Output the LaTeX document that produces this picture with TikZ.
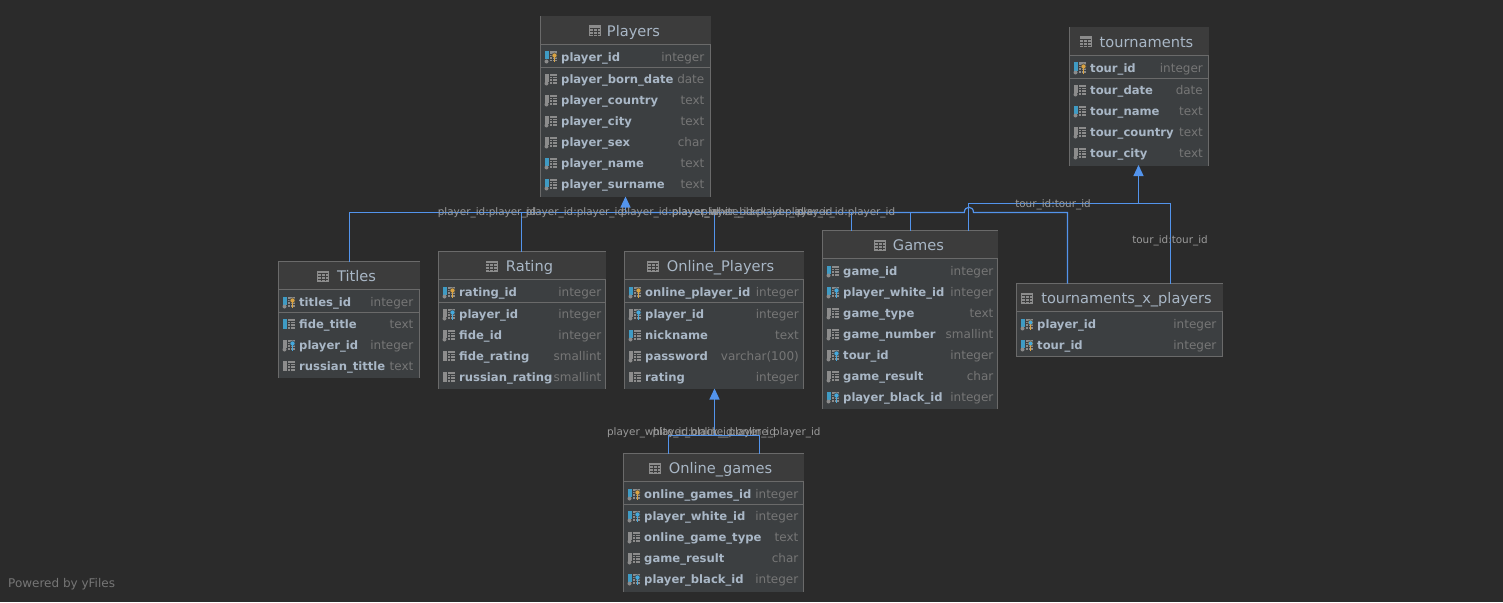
\documentclass[tikz,border=0pt]{standalone}
\usepackage{fontspec}
\setmainfont{DejaVu Sans}
\usetikzlibrary{arrows.meta}

\definecolor{bggray}{HTML}{2B2B2B}
\definecolor{headgray}{HTML}{3C3C3C}
\definecolor{rowgray}{HTML}{3C3F41}
\definecolor{linegray}{HTML}{6A6A6A}
\definecolor{icongray}{HTML}{8C8C8C}
\definecolor{namecol}{HTML}{A9B7C6}
\definecolor{typecol}{HTML}{767676}
\definecolor{edgeblue}{HTML}{5394EC}
\definecolor{labelcol}{HTML}{9A9A9A}
\definecolor{barblue}{HTML}{3F9BC4}
\definecolor{keyblue}{HTML}{46A9DC}
\definecolor{keygold}{HTML}{D9A343}

\tikzset{
  tablebox/.style={draw=linegray,fill=rowgray,line width=1pt,inner sep=0pt,outer sep=0pt,anchor=north west},
  tableline/.style={draw=linegray,line width=1pt},
  tabletitle/.style={text=namecol,inner sep=0pt,anchor=base,font=\fontsize{14.6}{17}\selectfont},
  colname/.style={text=namecol,inner sep=0pt,anchor=base west,font=\fontsize{11.6}{14}\selectfont\bfseries},
  coltype/.style={text=typecol,inner sep=0pt,anchor=base east,font=\fontsize{12}{14}\selectfont},
  edgelabel/.style={text=labelcol,inner sep=0pt,font=\fontsize{10.4}{12}\selectfont},
  fkedge/.style={draw=edgeblue,line width=1.2pt},
  fktip/.style={fkedge,-{Triangle[width=10,length=11]}},
  pics/colgrid/.style={code={
    \fill[icongray] (5.5,-6) rectangle (12,4);
    \draw[rowgray,line width=.6pt] (5.5,-3.5) -- (12,-3.5) (5.5,-1) -- (12,-1) (5.5,1.5) -- (12,1.5) (8,-3.5) -- (8,4);
  }},
  pics/reqbar/.style={code={
    \fill[barblue] (0,-6) rectangle (4,2);
    \fill[icongray] (2,4) circle (2);
  }},
  pics/nullbar/.style={code={
    \fill[icongray] (0,-6) rectangle (4,2);
    \fill[icongray] (2,4) circle (2);
  }},
  pics/goldkey/.style={code={
    \fill[keygold,draw=rowgray,line width=.5pt] (10,-2) circle (2.6);
    \fill[keygold] (9.3,-1) rectangle (10.7,5);
  }},
  pics/bluekey/.style={code={
    \fill[keyblue,draw=rowgray,line width=.5pt] (10,-2) circle (2.6);
    \fill[keyblue] (9.3,-1) rectangle (10.7,5);
  }},
  pics/pk/.style={code={\pic {reqbar}; \pic {colgrid}; \pic {goldkey};}},
  pics/pkfk/.style={code={\pic {reqbar}; \pic {colgrid}; \pic {goldkey}; \fill[keyblue] (10,-2) circle (2);}},
  pics/fkgray/.style={code={\pic {nullbar}; \pic {colgrid}; \pic {bluekey};}},
  pics/fkblue/.style={code={\pic {reqbar}; \pic {colgrid}; \pic {bluekey};}},
  pics/reqcol/.style={code={\pic {reqbar}; \pic {colgrid};}},
  pics/nullcol/.style={code={\pic {nullbar}; \pic {colgrid};}},
  pics/solidgray/.style={code={\fill[icongray] (0,-6) rectangle (4,4); \pic {colgrid};}},
  pics/solidblue/.style={code={\fill[barblue] (0,-6) rectangle (4,4); \pic {colgrid};}},
  pics/tableicon/.style={code={
    \fill[icongray] (0,-5.5) rectangle (12,5.5);
    \draw[headgray,line width=.7pt] (.8,-2.5) -- (11.2,-2.5) (.8,.5) -- (11.2,.5) (.8,3) -- (11.2,3) (4.3,-2.5) -- (4.3,4.7) (8,-2.5) -- (8,4.7);
  }},
}

\begin{document}
\begin{tikzpicture}[x=1pt,y=-1pt]
\useasboundingbox (0,0) rectangle (1503,602);
\fill[bggray] (0,0) rectangle (1503,602);

% Players
\begin{scope}[shift={(540.5,16.5)}]
\node[tablebox,minimum width=170,minimum height=180] (players) at (0,0) {};
\fill[headgray] (0,0) rectangle (170,28);
\draw[tableline] (0,28) -- (170,28);
\draw[tableline] (0,51) -- (170,51);
\node[tabletitle] (playerstitle) at (93,20) {Players};
\pic at (48.5,14.5) {tableicon};
\foreach \rowy/\rowicon/\rowname/\rowtype [count=\n] in {41/pk/player\_id/integer,63/nullcol/player\_born\_date/date,84/nullcol/player\_country/text,105/nullcol/player\_city/text,126/nullcol/player\_sex/char,147/reqcol/player\_name/text,168/reqcol/player\_surname/text}{
  \pic at (4,\rowy) {\rowicon};
  \node[colname] (playersname\n) at (20.5,\rowy+4) {\rowname};
  \node[coltype] (playerstype\n) at (164,\rowy+4) {\rowtype};
}
\end{scope}

% tournaments
\begin{scope}[shift={(1069.5,27.5)}]
\node[tablebox,minimum width=139,minimum height=137.5] (tournaments) at (0,0) {};
\fill[headgray] (0,0) rectangle (139,28);
\draw[tableline] (0,28) -- (139,28);
\draw[tableline] (0,51) -- (139,51);
\node[tabletitle] (tournamentstitle) at (77,20) {tournaments};
\pic at (10,14.5) {tableicon};
\foreach \rowy/\rowicon/\rowname/\rowtype [count=\n] in {41/pk/tour\_id/integer,63/nullcol/tour\_date/date,84/reqcol/tour\_name/text,105/nullcol/tour\_country/text,126/nullcol/tour\_city/text}{
  \pic at (4,\rowy) {\rowicon};
  \node[colname] (tournamentsname\n) at (20.5,\rowy+4) {\rowname};
  \node[coltype] (tournamentstype\n) at (133.5,\rowy+4) {\rowtype};
}
\end{scope}

% Titles
\begin{scope}[shift={(278.5,261.5)}]
\node[tablebox,minimum width=141,minimum height=116] (titles) at (0,0) {};
\fill[headgray] (0,0) rectangle (141,28);
\draw[tableline] (0,28) -- (141,28);
\draw[tableline] (0,51) -- (141,51);
\node[tabletitle] (titlestitle) at (78,20) {Titles};
\pic at (38.5,14.5) {tableicon};
\foreach \rowy/\rowicon/\rowname/\rowtype [count=\n] in {41/pk/titles\_id/integer,63/solidblue/fide\_title/text,84/fkgray/player\_id/integer,105/solidgray/russian\_tittle/text}{
  \pic at (4,\rowy) {\rowicon};
  \node[colname] (titlesname\n) at (20.5,\rowy+4) {\rowname};
  \node[coltype] (titlestype\n) at (135,\rowy+4) {\rowtype};
}
\end{scope}

% Rating
\begin{scope}[shift={(438.5,251.5)}]
\node[tablebox,minimum width=167,minimum height=137] (rating) at (0,0) {};
\fill[headgray] (0,0) rectangle (167,28);
\draw[tableline] (0,28) -- (167,28);
\draw[tableline] (0,51) -- (167,51);
\node[tabletitle] (ratingtitle) at (91,20) {Rating};
\pic at (47,14.5) {tableicon};
\foreach \rowy/\rowicon/\rowname/\rowtype [count=\n] in {41/pk/rating\_id/integer,63/fkgray/player\_id/integer,84/nullcol/fide\_id/integer,105/solidgray/fide\_rating/smallint,126/solidgray/russian\_rating/smallint}{
  \pic at (4,\rowy) {\rowicon};
  \node[colname] (ratingname\n) at (20.5,\rowy+4) {\rowname};
  \node[coltype] (ratingtype\n) at (163,\rowy+4) {\rowtype};
}
\end{scope}

% Online_Players
\begin{scope}[shift={(624.5,251.5)}]
\node[tablebox,minimum width=179,minimum height=137] (onlineplayers) at (0,0) {};
\fill[headgray] (0,0) rectangle (179,28);
\draw[tableline] (0,28) -- (179,28);
\draw[tableline] (0,51) -- (179,51);
\node[tabletitle] (onlineplayerstitle) at (96,20) {Online\_Players};
\pic at (22.5,14.5) {tableicon};
\foreach \rowy/\rowicon/\rowname/\rowtype [count=\n] in {41/pk/online\_player\_id/integer,63/fkgray/player\_id/integer,84/reqcol/nickname/text,105/nullcol/password/varchar(100),126/solidgray/rating/integer}{
  \pic at (4,\rowy) {\rowicon};
  \node[colname] (onlineplayersname\n) at (20.5,\rowy+4) {\rowname};
  \node[coltype] (onlineplayerstype\n) at (174.5,\rowy+4) {\rowtype};
}
\end{scope}

% Games
\begin{scope}[shift={(822.5,230.5)}]
\node[tablebox,minimum width=175,minimum height=178] (games) at (0,0) {};
\fill[headgray] (0,0) rectangle (175,28);
\draw[tableline] (0,28) -- (175,28);
\node[tabletitle] (gamestitle) at (96,20) {Games};
\pic at (51.5,14.5) {tableicon};
\foreach \rowy/\rowicon/\rowname/\rowtype [count=\n] in {41/reqcol/game\_id/integer,62/fkblue/player\_white\_id/integer,83/nullcol/game\_type/text,104/nullcol/game\_number/smallint,125/fkgray/tour\_id/integer,146/nullcol/game\_result/char,167/fkblue/player\_black\_id/integer}{
  \pic at (4,\rowy) {\rowicon};
  \node[colname] (gamesname\n) at (20.5,\rowy+4) {\rowname};
  \node[coltype] (gamestype\n) at (171,\rowy+4) {\rowtype};
}
\end{scope}

% tournaments_x_players
\begin{scope}[shift={(1016.5,283.5)}]
\node[tablebox,minimum width=206,minimum height=73] (tourxplayers) at (0,0) {};
\fill[headgray] (0,0) rectangle (206,28);
\draw[tableline] (0,28) -- (206,28);
\node[tabletitle] (tourxplayerstitle) at (110,20) {tournaments\_x\_players};
\pic at (4.5,14.5) {tableicon};
\foreach \rowy/\rowicon/\rowname/\rowtype [count=\n] in {41/pkfk/player\_id/integer,62/pkfk/tour\_id/integer}{
  \pic at (4,\rowy) {\rowicon};
  \node[colname] (tourxplayersname\n) at (20.5,\rowy+4) {\rowname};
  \node[coltype] (tourxplayerstype\n) at (200,\rowy+4) {\rowtype};
}
\end{scope}

% Online_games
\begin{scope}[shift={(623.5,453.5)}]
\node[tablebox,minimum width=180,minimum height=137.5] (onlinegames) at (0,0) {};
\fill[headgray] (0,0) rectangle (180,28);
\draw[tableline] (0,28) -- (180,28);
\draw[tableline] (0,51) -- (180,51);
\node[tabletitle] (onlinegamestitle) at (97,20) {Online\_games};
\pic at (25.5,14.5) {tableicon};
\foreach \rowy/\rowicon/\rowname/\rowtype [count=\n] in {41/pk/online\_games\_id/integer,63/fkblue/player\_white\_id/integer,84/nullcol/online\_game\_type/text,105/nullcol/game\_result/char,126/fkblue/player\_black\_id/integer}{
  \pic at (4,\rowy) {\rowicon};
  \node[colname] (onlinegamesname\n) at (20.5,\rowy+4) {\rowname};
  \node[coltype] (onlinegamestype\n) at (175,\rowy+4) {\rowtype};
}
\end{scope}

% only tournaments_x_players keeps its bottom line
\foreach \tablename in {players,tournaments,titles,rating,onlineplayers,games,onlinegames}{
  \draw[rowgray,line width=1pt] ([xshift=.5]\tablename.south west) -- ([xshift=-.5]\tablename.south east);
}

\coordinate (busplayers) at (625.5,212.5);
\coordinate (bustour) at (1138.5,203.5);
\coordinate (busonline) at (714.5,435.5);
\coordinate (gameswhite) at (851.5,230.5);
\coordinate (gamesblack) at (910.5,230.5);
\coordinate (gamestour) at (968.5,230.5);
\coordinate (txpplayer) at (1067.5,283.5);
\coordinate (txptour) at (1170.5,283.5);
\coordinate (ogwhite) at (668.5,453.5);
\coordinate (ogblack) at (759.5,453.5);

\draw[fkedge] ([xshift=.5]titles.north) |- (busplayers);
\draw[fkedge] ([xshift=-.5]rating.north) |- (busplayers);
\draw[fkedge] ([xshift=.5]onlineplayers.north) |- (busplayers);
\draw[fkedge] (gameswhite) |- (busplayers);
\draw[fkedge] (gamesblack) |- (busplayers);
\draw[fkedge] (txpplayer) |- (973.5,212.5) .. controls (973.5,205.5) and (964.3,205.5) .. (964.3,212.5) -- (busplayers);
\draw[fktip] (busplayers) -- (players.south);
\draw[fkedge] (gamestour) |- (bustour);
\draw[fkedge] (txptour) |- (bustour);
\draw[fktip] (bustour) -- ([xshift=-.5]tournaments.south);
\draw[fkedge] (ogwhite) |- (busonline);
\draw[fkedge] (ogblack) |- (busonline);
\draw[fktip] (busonline) -- ([xshift=.5]onlineplayers.south);

\node[edgelabel] (lbltitles) at (487,213) {player\_id:player\_id};
\node[edgelabel] (lblrating) at (575,213) {player\_id:player\_id};
\node[edgelabel] (lblonline) at (670,213) {player\_id:player\_id};
\node[edgelabel] (lblwhite) at (738,213) {player\_white\_id:player\_id};
\node[edgelabel] (lblblack) at (767,213) {player\_black\_id:player\_id};
\node[edgelabel] (lbltxp) at (846,213) {player\_id:player\_id};
\node[edgelabel] (lbltour) at (1053,204.5) {tour\_id:tour\_id};
\node[edgelabel] (lbltxptour) at (1170,240.5) {tour\_id:tour\_id};
\node[edgelabel] (lblogwhite) at (691.5,432.5) {player\_white\_id:online\_player\_id};
\node[edgelabel] (lblogblack) at (736.5,432.5) {player\_black\_id:online\_player\_id};

\node[text=typecol,inner sep=0pt,anchor=base west,font=\fontsize{12}{14}\selectfont] (poweredby) at (8,587) {Powered by yFiles};
\end{tikzpicture}
\end{document}
